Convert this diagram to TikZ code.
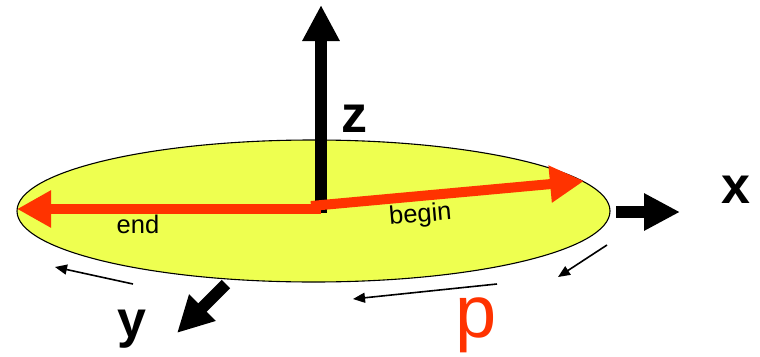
\documentclass[tikz,border=0pt]{standalone}
\usepackage{fontspec}
\setmainfont{Liberation Sans}
\usetikzlibrary{arrows.meta,shapes.geometric}
\definecolor{diskyellow}{RGB}{238,255,80}
\definecolor{arrred}{RGB}{255,51,0}
\tikzset{
  disk/.style={ellipse, draw=black, line width=1.1pt, fill=diskyellow, minimum width=593pt, minimum height=142pt, inner sep=0pt},
  axisarrow/.style={line width=12pt, -{Triangle[length=36pt,width=35pt]}},
  redarrow/.style={arrred, line width=10pt, -{Triangle[length=34pt,width=35pt]}},
  thinarrow/.style={line width=1.6pt, -{Triangle[length=12pt,width=10pt]}},
  axislabel/.style={font=\fontsize{52}{52}\selectfont\bfseries, inner sep=0pt, anchor=base},
  arrlabel/.style={font=\fontsize{25.5}{25.5}\selectfont, inner sep=0pt, anchor=base}
}
\begin{document}
\begin{tikzpicture}[x=1pt,y=-1pt]
\useasboundingbox (0,0) rectangle (760,356);
\node[disk] (disk) at (313.5,211) {};
% axis points
\coordinate (zbase) at (321,213);
\coordinate (ztip) at (321,5);
\coordinate (xbase) at (616,212);
\coordinate (xtip) at (680,212);
\coordinate (ybase) at (226,284);
\coordinate (ytip) at (177,333);
\draw[axisarrow] (zbase) -- (ztip);
\draw[axisarrow] (xbase) -- (xtip);
\draw[axisarrow] (ybase) -- (ytip);
% red arrows
\coordinate (endstart) at (321,209);
\coordinate (endtip) at (17,209);
\coordinate (beginstart) at (311,206);
\coordinate (begintip) at (584,181);
\draw[redarrow] (endstart) -- (endtip);
\draw[redarrow] (beginstart) -- (begintip);
% thin arrows
\coordinate (a1s) at (133,284);
\coordinate (a1e) at (55,267);
\coordinate (a2s) at (497,284);
\coordinate (a2e) at (353,299);
\coordinate (a3s) at (607,245);
\coordinate (a3e) at (558,277);
\draw[thinarrow] (a1s) -- (a1e);
\draw[thinarrow] (a2s) -- (a2e);
\draw[thinarrow] (a3s) -- (a3e);
% labels
\node[axislabel] (zl) at (354,132) {z};
\node[axislabel] (xl) at (736,203) {x};
\node[axislabel] (yl) at (132,337) {y};
\node[font=\fontsize{74}{74}\selectfont, text=arrred, inner sep=0pt, anchor=base] (pl) at (476,337) {p};
\node[arrlabel] (endl) at (138,233) {end};
\node[arrlabel, rotate=5] (beginl) at (421,222) {begin};
\end{tikzpicture}
\end{document}
